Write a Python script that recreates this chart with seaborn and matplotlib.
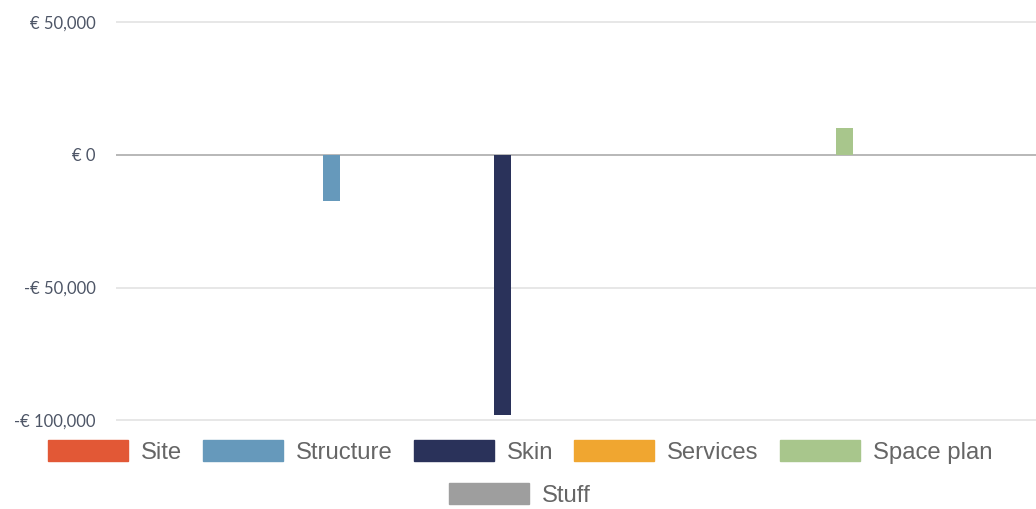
import matplotlib
matplotlib.use("Agg")
import matplotlib.pyplot as plt
from matplotlib.patches import Patch
from matplotlib.ticker import FuncFormatter
import seaborn as sns
import pandas as pd

# Cost difference per building layer (EUR)
layers = ["Site", "Structure", "Skin", "Services", "Space plan", "Stuff"]
values = [0, -17500, -98000, 0, 10000, 0]
colors = ["#e25836", "#6699bb", "#2a325a", "#f0a630", "#a8c68c", "#9e9e9e"]
yticks = [50000, 0, -50000, -100000]

sns.set_theme(style="white")
plt.rcParams["font.family"] = ["Lato", "DejaVu Sans"]

df = pd.DataFrame({"layer": layers, "value": values})

fig = plt.figure(figsize=(10.36, 5.09), dpi=100)
ax = fig.add_axes([115.7 / 1036, 0.1639, 1 - 115.7 / 1036, 0.8028])

sns.barplot(data=df, x="layer", y="value", hue="layer", order=layers,
            hue_order=layers, palette=colors, saturation=1, dodge=False,
            width=0.105, errorbar=None, linewidth=0, legend=False, ax=ax,
            zorder=3)

ax.set_ylim(-102000, 52000)
ax.set_xlim(-0.262, 5.12)
ax.set_yticks(yticks)


def euro(v, _pos):
    s = f"€ {abs(int(v)):,}"
    return "-" + s if v < 0 else s


ax.yaxis.set_major_formatter(FuncFormatter(euro))
ax.tick_params(axis="y", length=0, pad=14.5, labelsize=12, labelcolor="#4d5566")
ax.set_xticks([])
ax.set_xlabel("")
ax.set_ylabel("")
for s in ax.spines.values():
    s.set_visible(False)

for t in yticks:
    if t == 0:
        ax.axhline(t, color="#b8b8b8", lw=1.4, zorder=2)
    else:
        ax.axhline(t, color="#e3e3e3", lw=1.2, zorder=1)

handles = [Patch(facecolor=c, edgecolor=c, label=l) for l, c in zip(layers, colors)]
legend_kw = dict(frameon=False, prop={"family": "Liberation Sans", "size": 17.2},
                 handlelength=3.35, handleheight=1.0, handletextpad=0.54,
                 columnspacing=0.88, labelcolor="#666666",
                 borderpad=0, borderaxespad=0)
leg1 = fig.legend(handles=handles[:5], ncol=5, loc="center",
                  bbox_to_anchor=(520 / 1036, 1 - 452 / 509), **legend_kw)
leg2 = fig.legend(handles=handles[5:], ncol=1, loc="center",
                  bbox_to_anchor=(520 / 1036, 1 - 495 / 509), **legend_kw)

fig.savefig("out.png", dpi=100)
